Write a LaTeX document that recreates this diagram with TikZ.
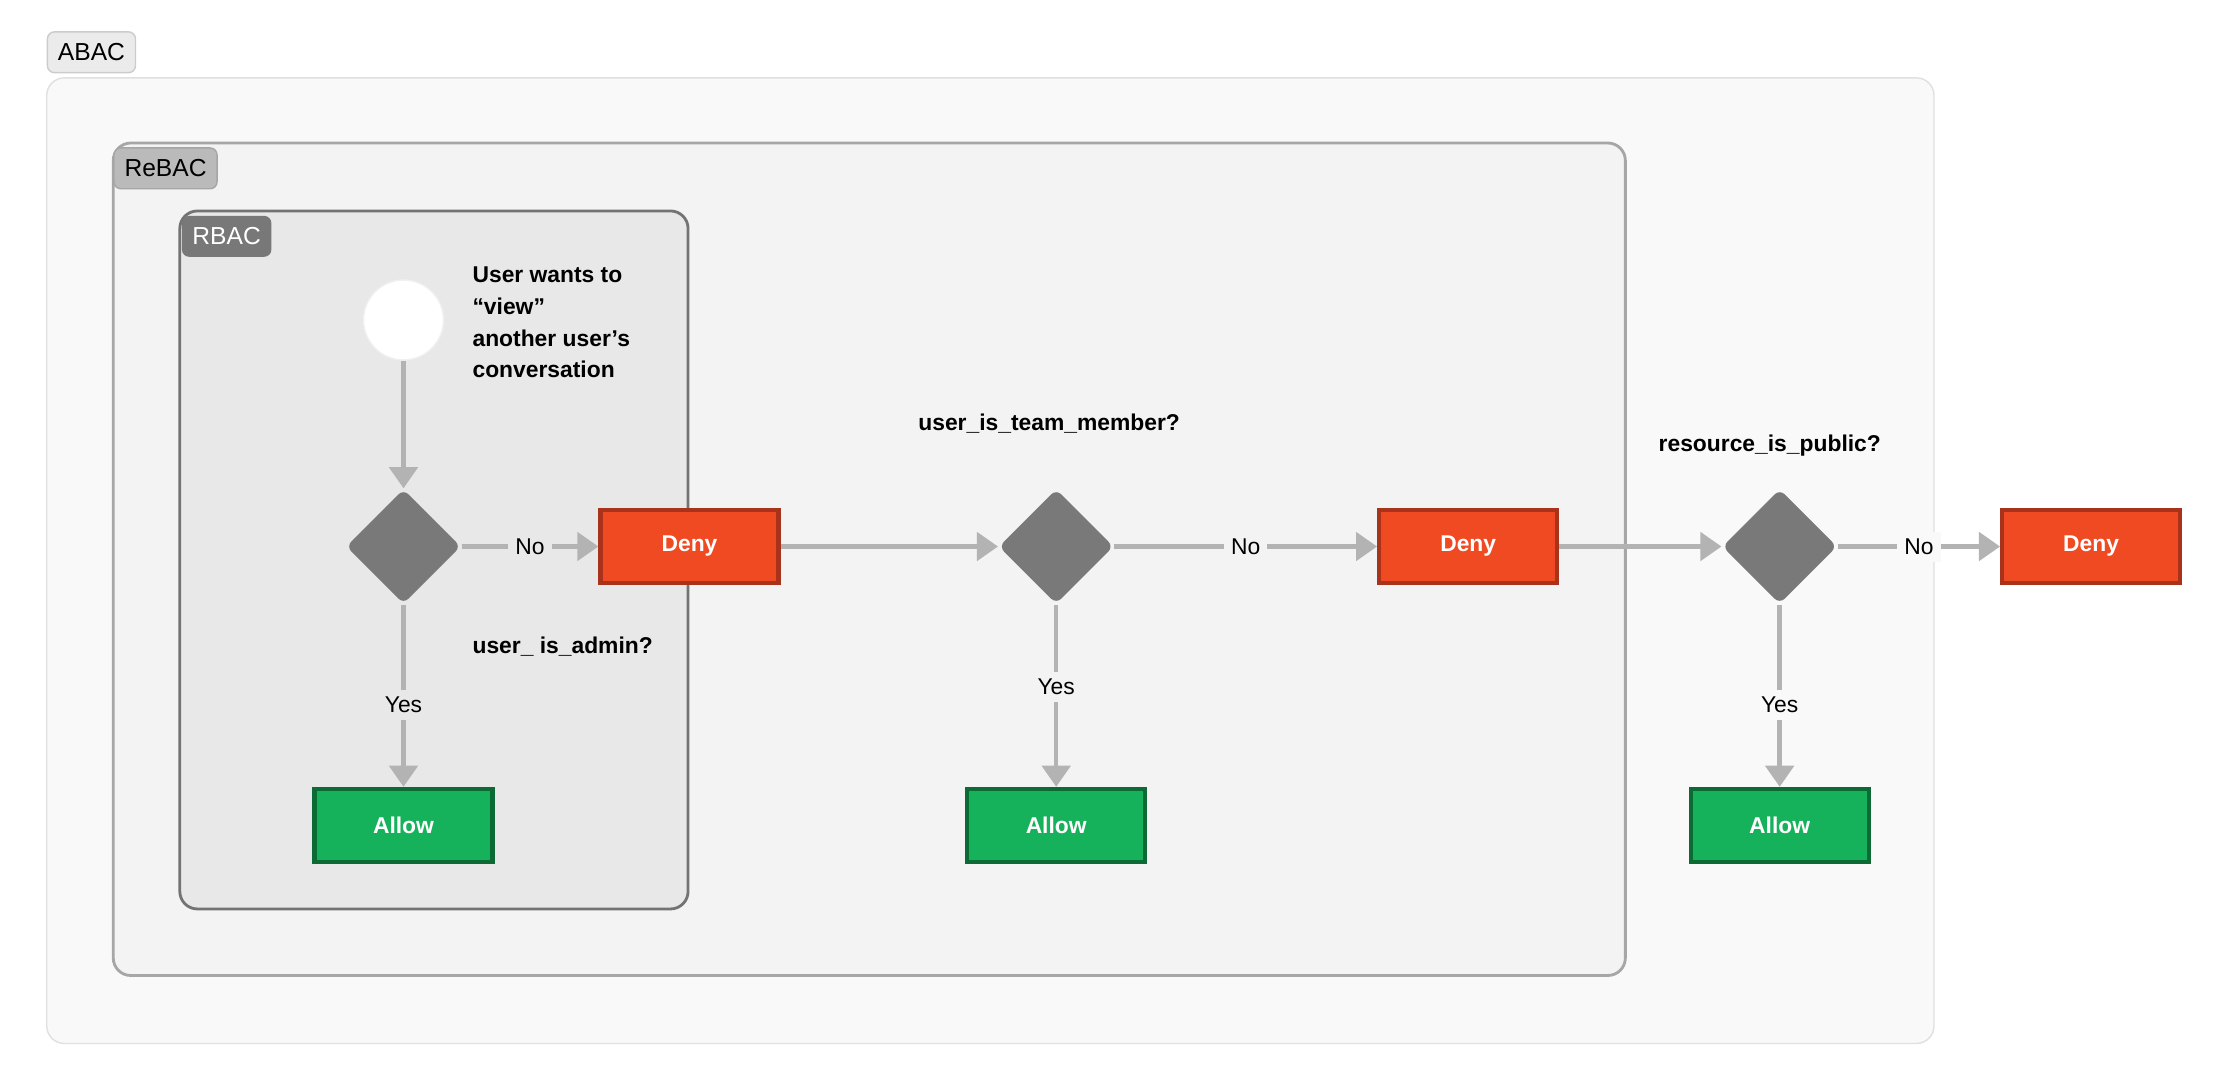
\documentclass[tikz,border=0pt]{standalone}
\usepackage{fontspec}
\setmainfont{Liberation Sans}
\usetikzlibrary{arrows.meta}
\definecolor{abacbg}{HTML}{F9F9F9}
\definecolor{rebacbg}{HTML}{F3F3F3}
\definecolor{rbacbg}{HTML}{E8E8E8}
\definecolor{denyred}{HTML}{F04A23}
\definecolor{denyedge}{HTML}{A8321A}
\definecolor{allowgreen}{HTML}{16B25B}
\definecolor{allowedge}{HTML}{0C6B35}
\definecolor{flow}{HTML}{B3B3B3}
\tikzset{
	deny/.style={draw=denyedge, fill=denyred, line width=1.2pt, minimum width=1.78cm, minimum height=0.73cm, text=white, font=\fontsize{6.5}{8}\bfseries\selectfont},
	allow/.style={deny, draw=allowedge, fill=allowgreen},
	check/.style={diamond, draw=none, fill=gray!95!black, minimum size=1.15cm, rounded corners=2pt},
	flow/.style={draw=flow, line width=1.3pt, -{Triangle[length=6pt,width=8pt]}},
	edgelbl/.style={font=\fontsize{6.5}{8}\selectfont, inner sep=2pt},
	question/.style={font=\fontsize{6.5}{9}\bfseries\selectfont, align=left},
	tag/.style={rounded corners=2pt, font=\fontsize{7}{8}\selectfont, minimum height=0.37cm, inner xsep=3pt}
}
\usetikzlibrary{shapes.geometric}
\begin{document}
\begin{tikzpicture}[x=0.01416cm, y=-0.01416cm]
		\useasboundingbox (0,0) rectangle (1568,763);
		% the three nested boxes
		\draw[draw=black!12, fill=abacbg, rounded corners=5pt] (33,55) rectangle (1366,737);
		\node[tag, draw=black!20, fill=black!8, anchor=north west] (abac) at (33,22) {ABAC};
		\draw[draw=black!35, fill=rebacbg, rounded corners=5pt, line width=0.8pt] (80,101) rectangle (1148,689);
		\node[tag, draw=black!35, fill=black!27, anchor=north west] (rebac) at (80,104) {ReBAC};
		\draw[draw=black!55, fill=rbacbg, rounded corners=5pt, line width=0.8pt] (127,149) rectangle (486,642);
		\node[tag, fill=black!53, text=white, anchor=north west] (rbac) at (128,152) {RBAC};
		% first check
		\node[circle, fill=white, draw=black!6, minimum size=0.8cm] (start) at (285,226) {};
		\node[question, anchor=north west] (want) at (325,180) {User wants to\\“view”\\another user’s\\conversation};
		\node[check] (admin) at (285,386) {};
		\node[question, anchor=west] (adminq) at (325,457) {user\_ is\_admin?};
		\node[deny] (deny1) at (487,386) {Deny};
		\node[allow] (allow1) at (285,583) {Allow};
		\draw[flow] (start) -- (admin);
		\draw[flow] (admin) -- node[edgelbl, fill=rbacbg] {No} (deny1);
		\draw[flow] (admin) -- node[edgelbl, fill=rbacbg, pos=0.55] {Yes} (allow1);
		% second check
		\node[check] (team) at (746,386) {};
		\node[question] (teamq) at (741,299) {user\_is\_team\_member?};
		\node[deny] (deny2) at (1037,386) {Deny};
		\node[allow] (allow2) at (746,583) {Allow};
		\draw[flow] (deny1) -- (team);
		\draw[flow] (team) -- node[edgelbl, fill=rebacbg] {No} (deny2);
		\draw[flow] (team) -- node[edgelbl, fill=rebacbg, pos=0.45] {Yes} (allow2);
		% third check
		\node[check] (public) at (1257,386) {};
		\node[question] (publicq) at (1250,315) {resource\_is\_public?};
		\node[deny] (deny3) at (1477,386) {Deny};
		\node[allow] (allow3) at (1257,583) {Allow};
		\draw[flow] (deny2) -- (public);
		\draw[flow] (public) -- node[edgelbl, fill=abacbg] {No} (deny3);
		\draw[flow] (public) -- node[edgelbl, fill=abacbg, pos=0.55] {Yes} (allow3);
	\end{tikzpicture}
\end{document}
